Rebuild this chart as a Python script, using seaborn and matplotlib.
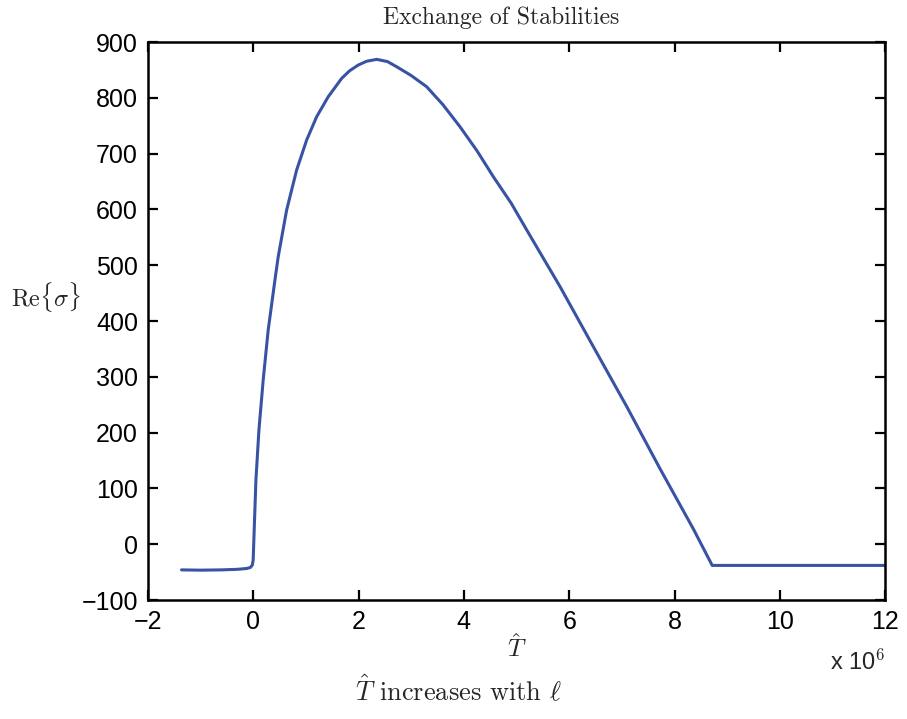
import numpy as np
import pandas as pd
import matplotlib
matplotlib.use('Agg')
import matplotlib.pyplot as plt
import seaborn as sns

# T-hat values (units of 1e6) and Re{sigma}
t_hat = [-1.36, -1.0, -0.6, -0.3, -0.12, -0.05, -0.015, 0.0, 0.01, 0.019,
         0.052, 0.109, 0.19, 0.285, 0.413, 0.475, 0.635, 0.825, 1.015, 1.205,
         1.425, 1.68, 1.83, 1.995, 2.15, 2.345, 2.55, 2.725, 3.0, 3.294,
         3.6, 3.927, 4.25, 4.56, 4.9, 5.194, 5.827,
         6.459, 7.094, 7.726, 8.359, 8.715, 10.0, 11.98]
re_sigma = [-46, -46.5, -46, -45, -43.5, -41.5, -37, -28, 0, 25.4,
            115, 204.7, 294.3, 383.9, 473.5, 515.2, 598.9, 670.6, 724.4, 766.2,
            802.0, 834.9, 848.5, 858.8, 865.5, 869.0, 865.0, 855.7, 840.0, 819.9,
            788.0, 748.2, 705.0, 658.6, 611.0, 563.1, 461.5,
            353.9, 246.4, 135, 27, -38, -38, -38]

xticks = [-2, 0, 2, 4, 6, 8, 10, 12]
yticks = [-100, 0, 100, 200, 300, 400, 500, 600, 700, 800, 900]

df = pd.DataFrame({'T': t_hat, 'Re': re_sigma})

sns.set_style('white')
plt.rcParams['font.family'] = ['Liberation Sans', 'DejaVu Sans']
plt.rcParams['mathtext.fontset'] = 'cm'

fig = plt.figure(figsize=(9.07, 7.19), dpi=100)
ax = fig.add_axes([0.163, 0.1655, 0.813, 0.776])

sns.lineplot(data=df, x='T', y='Re', sort=False, color='#3953a4',
             linewidth=2.2, ax=ax)

ax.set_xlim(-2, 12)
ax.set_ylim(-100, 900)
ax.set_xticks(xticks)
ax.set_yticks(yticks)
ax.set_xticklabels([f'{v}'.replace('-', '\u2212') for v in xticks])
ax.set_yticklabels([f'{v}'.replace('-', '\u2212') for v in yticks])
ax.tick_params(direction='in', length=7, width=1.6, labelsize=18,
               top=True, right=True, bottom=True, left=True, pad=7,
               colors='black')
for s in ax.spines.values():
    s.set_linewidth(1.8)
    s.set_color('black')

fig.text(0.552, 0.975, 'Exchange of Stabilities', fontfamily='cmr10',
         fontsize=17, ha='center', va='center')
ax.set_xlabel(r'$\hat{T}$', fontsize=18)
ax.xaxis.set_label_coords(0.5, -0.086)
ax.xaxis.label.set_va('center')
ax.set_ylabel(r'$\mathrm{Re}\{\sigma\}$', fontsize=17.5, rotation=0,
              ha='center', va='center')
ax.yaxis.set_label_coords(-0.138, 0.543)
ax.text(1.0, -0.111, r'x 10$^{6}$', transform=ax.transAxes, ha='right',
        va='center', fontsize=17)
fig.text(0.505, 0.04, r'$\hat{T}$ increases with $\ell$', ha='center',
         va='center', fontsize=19, fontfamily='cmr10')

fig.savefig('out.png', dpi=100)
